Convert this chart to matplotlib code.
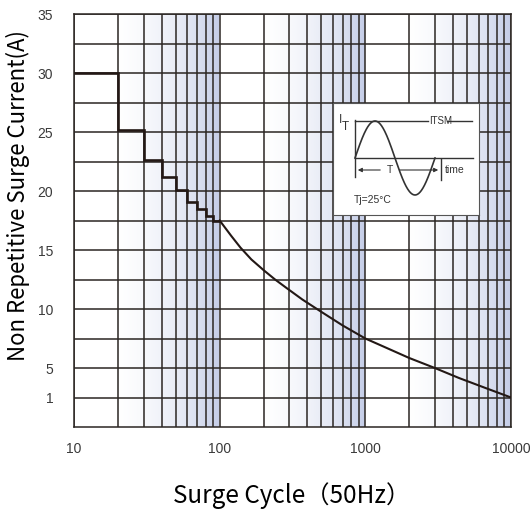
import numpy as np
import matplotlib
matplotlib.use("Agg")
import matplotlib.pyplot as plt
from matplotlib.colors import LinearSegmentedColormap
from matplotlib.ticker import FixedLocator, NullFormatter

# stepped part (cycle edges, current per step)
step_cycles = [10, 20, 30, 40, 50, 60, 70, 80, 90, 100]
step_current = [30, 25.2, 22.6, 21.2, 20.1, 19.1, 18.5, 17.9, 17.5]

# smooth part of the curve
curve_cycles = [100, 120, 139, 165, 200, 240, 290, 370, 500, 700, 1000,
                1400, 2000, 3000, 4400, 6700, 10000]
curve_current = [17.5, 16.2, 15.2, 14.2, 13.3, 12.5, 11.75, 10.8, 9.75, 8.6, 7.5,
                 6.7, 5.85, 5.0, 3.64, 2.28, 1.0]

x_ticks = [10, 100, 1000, 10000]
y_ticks = [1, 5, 10, 15, 20, 25, 30, 35]
y_grid = [1, 5, 7.5, 10, 12.5, 15, 17.5, 20, 22.5, 25, 27.5, 30, 32.5, 35]

# the datasheet squeezes 0..5 unevenly: "1" sits on the first grid row
_val = [0, 1, 5, 35]
_pos = [0, 2.5, 5, 35]


def fwd(v):
    return np.interp(v, _val, _pos)


def inv(p):
    return np.interp(p, _pos, _val)


ink = "#231815"
grid_col = "#2b2623"

fig = plt.figure(figsize=(5.30, 5.11), dpi=100)
ax = fig.add_axes([74 / 530, 1 - 427 / 511, 437 / 530, 413 / 511])
ax.set_xscale("log")
ax.set_yscale("function", functions=(fwd, inv))

# blue gradient bands in every decade (2..10)
cmap = LinearSegmentedColormap.from_list("band", ["#ffffff", "#c3cce7"])
grad = np.linspace(0, 1, 256).reshape(1, -1)
for d in [10, 100, 1000]:
    ax.imshow(grad, cmap=cmap, aspect="auto", extent=(2 * d, 10 * d, 0, 35),
              zorder=0.2, interpolation="bilinear")
ax.set_xlim(10, 10000)
ax.set_ylim(0, 35)

ax.set_xticks(x_ticks)
ax.set_xticklabels([str(t) for t in x_ticks])
ax.xaxis.set_minor_locator(FixedLocator([k * d for d in [10, 100, 1000] for k in range(2, 10)]))
ax.xaxis.set_minor_formatter(NullFormatter())
ax.set_yticks(y_ticks)
ax.set_yticklabels([str(t) for t in y_ticks])
ax.yaxis.set_minor_locator(FixedLocator(y_grid))
ax.yaxis.set_minor_formatter(NullFormatter())
ax.tick_params(which="both", length=0)
ax.tick_params(axis="x", pad=11, labelsize=10, labelcolor="#3a3a3a")
ax.tick_params(axis="y", pad=15, labelsize=10, labelcolor="#3a3a3a")
for lab in ax.get_xticklabels() + ax.get_yticklabels():
    lab.set_fontfamily("Liberation Sans")

ax.set_axisbelow(True)
ax.grid(True, which="both", color=grid_col, linewidth=1.1)
for s in ax.spines.values():
    s.set_color(grid_col)
    s.set_linewidth(1.1)

ax.stairs(step_current, step_cycles, baseline=None, color=ink, linewidth=1.9, zorder=3)
ax.plot(curve_cycles, curve_current, color=ink, linewidth=1.5, zorder=3)

fig.text(18 / 530, 1 - 196 / 511, "Non Repetitive Surge Current(A)", rotation=90,
         ha="center", va="center", fontsize=16, family=["Noto Sans CJK SC", "DejaVu Sans"])
fig.text(292 / 530, 1 - 496 / 511, "Surge Cycle（50Hz）", ha="center", va="center",
         fontsize=17.5, family=["Noto Sans CJK SC", "DejaVu Sans"])

# waveform inset
ins = fig.add_axes([333 / 530, 1 - 215 / 511, 146 / 530, 112 / 511])
ins.set_xlim(0, 146)
ins.set_ylim(0, 112)
ins.set_xticks([])
ins.set_yticks([])
ins.set_facecolor("white")
for s in ins.spines.values():
    s.set_color("#555555")
    s.set_linewidth(0.8)
wc = "#333333"
t = np.linspace(0, 1, 200)
ins.plot(22 + 80 * t, 57 + 37 * np.sin(2 * np.pi * t), color=wc, lw=1.2)
ins.plot([22, 22], [38, 95], color=wc, lw=1)
ins.plot([22, 140], [57, 57], color=wc, lw=1)
ins.plot([22, 95], [94, 94], color=wc, lw=1)
ins.plot([114, 139], [94, 94], color=wc, lw=1)
ins.plot([108, 108], [35, 56], color=wc, lw=1)
ins.annotate("", xy=(22, 45), xytext=(50, 45),
             arrowprops=dict(arrowstyle="-|>", color=wc, lw=0.8, mutation_scale=6))
ins.annotate("", xy=(108, 45), xytext=(64, 45),
             arrowprops=dict(arrowstyle="-|>", color=wc, lw=0.8, mutation_scale=6))
fs = 7.5
ins.text(57, 45, "T", ha="center", va="center", fontsize=fs, color=wc, family="Liberation Sans")
ins.text(112, 45, "time", ha="left", va="center", fontsize=fs, color=wc, family="Liberation Sans")
ins.text(6, 95, "I", ha="left", va="center", fontsize=8.5, color=wc, family="Liberation Sans")
ins.text(9, 88, "T", ha="left", va="center", fontsize=8.5, color=wc, family="Liberation Sans")
ins.text(96, 94, "ITSM", ha="left", va="center", fontsize=7, color=wc, family="Liberation Sans")
ins.text(21, 15, "Tj=25°C", ha="left", va="center", fontsize=fs, color=wc, family="Liberation Sans")

fig.savefig("out.png", dpi=100)
